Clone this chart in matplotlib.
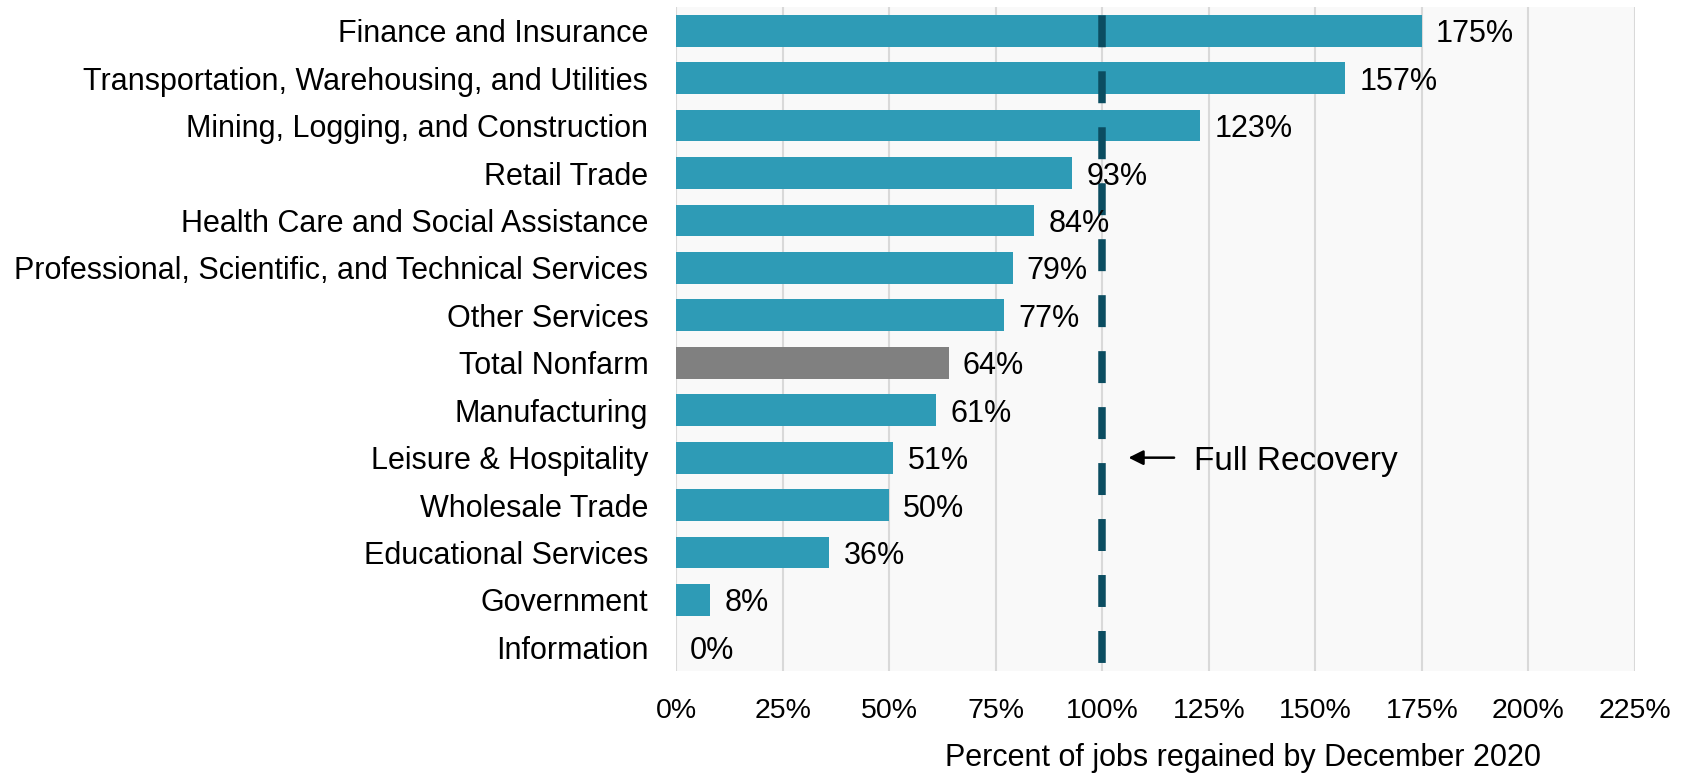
import numpy as np
import matplotlib.pyplot as plt

plt.rcParams['font.family'] = ['Liberation Sans', 'DejaVu Sans']
plt.rcParams['lines.scale_dashes'] = False

# data
sectors = ['Finance and Insurance', 'Transportation, Warehousing, and Utilities',
           'Mining, Logging, and Construction', 'Retail Trade',
           'Health Care and Social Assistance',
           'Professional, Scientific, and Technical Services', 'Other Services',
           'Total Nonfarm', 'Manufacturing', 'Leisure & Hospitality',
           'Wholesale Trade', 'Educational Services', 'Government', 'Information']
regained = [175, 157, 123, 93, 84, 79, 77, 64, 61, 51, 50, 36, 8, 0]
xticks = [0, 25, 50, 75, 100, 125, 150, 175, 200, 225]

teal = '#2e9bb6'
grey = '#808080'
colors = [grey if s == 'Total Nonfarm' else teal for s in sectors]

fig = plt.figure(figsize=(16.83, 7.75), dpi=100)
ax = fig.add_axes([0.4017, 0.134, 0.5698, 0.857])
ax.set_facecolor('#f9f9f9')

y = np.arange(len(sectors))
ax.barh(y, regained, height=0.67, color=colors, zorder=2)

for yi, v in zip(y, regained):
    ax.text(v + 3.3, yi, f'{v}%', va='center_baseline', ha='left',
            fontsize=22, zorder=4)

# full recovery line
ax.axvline(100, color='#0b4d61', linewidth=5.4,
           linestyle=(34.5, (23, 17.3)), zorder=3)
ax.annotate('', xy=(105.5, 9), xytext=(117.5, 9),
            arrowprops=dict(arrowstyle='-|>', color='black', lw=1.8,
                            mutation_scale=22))
ax.text(121.5, 9, 'Full Recovery', va='center_baseline', ha='left', fontsize=24)

ax.set_xlim(0, 225)
ax.set_ylim(len(sectors) - 0.5, -0.5)
ax.set_xticks(xticks)
ax.set_xticklabels([f'{t}%' for t in xticks], fontsize=20.5)
ax.set_yticks(y)
ax.set_yticklabels(sectors, fontsize=22)
ax.tick_params(axis='both', length=0)
ax.tick_params(axis='x', pad=19)
ax.tick_params(axis='y', pad=20)
ax.grid(axis='x', color='#d9d9d9', linewidth=1.5, zorder=0)
ax.set_axisbelow(True)
for s in ax.spines.values():
    s.set_visible(False)

fig.text(0.7386, 0.011, 'Percent of jobs regained by December 2020',
         ha='center', va='baseline', fontsize=22)

fig.savefig('out.png', dpi=100)
